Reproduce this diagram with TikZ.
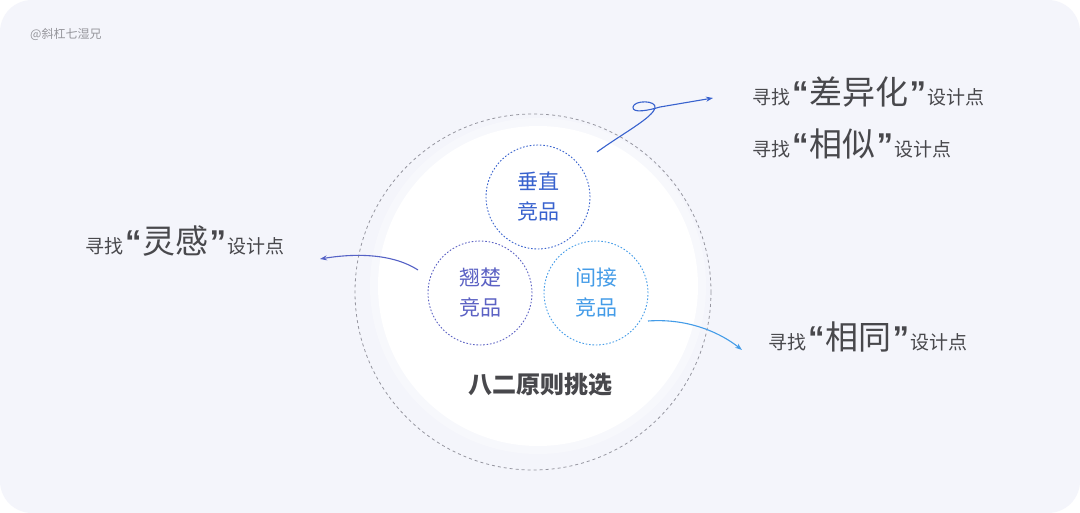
\documentclass[tikz,border=0pt]{standalone}
\usepackage{fontspec}
\setmainfont{Noto Sans CJK SC}
\newfontfamily\quotefont{Liberation Sans}
\usetikzlibrary{arrows.meta, positioning}
\definecolor{PageBg}{RGB}{244, 245, 251}
\definecolor{RingGray}{RGB}{150, 150, 160}
\definecolor{TextGray}{RGB}{72, 72, 76}
\definecolor{MarkGray}{RGB}{150, 150, 156}
\definecolor{VertBlue}{RGB}{56, 98, 206}
\definecolor{TopViolet}{RGB}{92, 98, 196}
\definecolor{SideBlue}{RGB}{68, 156, 232}
\newcommand{\bigword}[1]{{\fontsize{33}{33}\selectfont{\quotefont\bfseries\kern2pt“\kern1pt}#1{\quotefont\bfseries\kern1pt”\kern1pt}}}

\begin{document}
\begin{tikzpicture}[
    x=1pt, y=-1pt,
    compcircle/.style={circle, minimum size=104pt, inner sep=0pt, dash pattern=on 1.6pt off 1.8pt, line width=0.9pt, align=center, font=\fontsize{21}{30}\selectfont},
    findtext/.style={anchor=base west, inner sep=0pt, text=TextGray, font=\fontsize{19}{21}\selectfont},
    arrowline/.style={line width=1.1pt, -{Stealth[length=7pt, width=5pt]}}
]

% page
\fill[white] (0,0) rectangle (1080,513);
\fill[PageBg, rounded corners=32pt] (0,0) rectangle (1080,513);

% outer dashed ring and white disc
\draw[RingGray, line width=0.8pt, dash pattern=on 3pt off 3pt] (533,292) circle (178);
\fill[white, opacity=0.3] (538,286) circle (168);
\fill[white] (538,286) circle (160);

% watermark
\node[anchor=base west, inner sep=0pt, text=MarkGray, font=\fontsize{12}{14}\selectfont] (mark) at (30,39) {@斜杠七湿兄};

% three rivals
\node[compcircle, draw=VertBlue, text=VertBlue] (vert) at (538,197) {垂直\\竞品};
\node[compcircle, draw=TopViolet, text=TopViolet] (top) at (480,293) {翘楚\\竞品};
\node[compcircle, draw=SideBlue, text=SideBlue] (side) at (596,293) {间接\\竞品};

\node[text=TextGray, font=\fontsize{24}{26}\selectfont\bfseries] (rule) at (540,385) {八二原则挑选};

% labels
\node[findtext] (diff) at (752,105) {寻找\bigword{差异化}设计点};
\node[findtext] (alike) at (752,157) {寻找\bigword{相似}设计点};
\node[findtext] (idea) at (85,254) {寻找\bigword{灵感}设计点};
\node[findtext] (same) at (768,349) {寻找\bigword{相同}设计点};

% arrows
\coordinate (vertout) at (597,152);
\coordinate (diffin) at (713,98);
\coordinate (topout) at (418,270);
\coordinate (ideain) at (320,259);
\coordinate (sideout) at (648,321);
\coordinate (samein) at (742,350);

\draw[arrowline, VertBlue] (vertout) .. controls (625,132) and (652,118) .. (655,108)
    .. controls (657,100) and (634,100) .. (633,107)
    .. controls (632,114) and (650,110) .. (660,107)
    -- (diffin);
\draw[arrowline, TopViolet!80!VertBlue] (topout) .. controls (390,252) and (350,254) .. (ideain);
\draw[arrowline, SideBlue] (sideout) .. controls (690,318) and (722,334) .. (samein);

\end{tikzpicture}
\end{document}
